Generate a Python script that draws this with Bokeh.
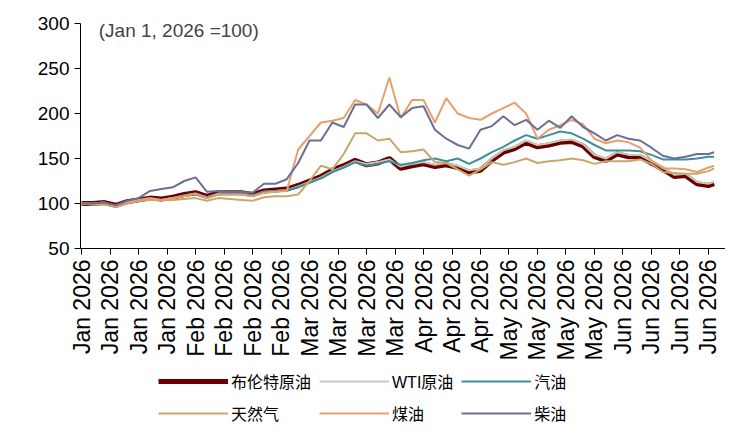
import math
from bokeh.plotting import figure
from bokeh.models import Legend, LegendItem, FixedTicker, Label, Range1d
from bokeh.layouts import column
from bokeh.embed import file_html
from bokeh.resources import INLINE

idx = list(range(0, 111, 2)) + [111]

brent = [100,100,101,98,102,104,106,105,107,110,112,108,112,112,112,110,114,115,116,120,125,130,137,142,148,143,145,150,
         139,142,144,141,143,140,135,137,148,157,161,168,163,165,168,169,164,152,148,155,152,152,145,138,130,131,122,120,122]
wti = [100,99,100,97,101,103,105,104,106,109,111,107,111,111,111,109,113,114,115,119,124,129,136,141,147,144,146,149,
       141,144,146,143,145,142,137,139,150,159,163,170,165,167,170,171,166,154,150,157,154,154,147,140,132,133,124,122,124]
gasoline = [99,100,101,97,101,103,105,104,106,109,111,107,110,111,111,109,113,114,115,118,123,128,135,140,146,142,144,147,
            143,145,148,150,147,150,144,150,157,163,170,176,172,176,180,178,172,165,159,159,159,158,154,149,149,149,150,152,152]
natgas = [100,99,99,96,100,103,104,104,104,105,106,103,106,105,104,103,107,108,108,110,125,142,138,155,178,178,170,172,
          157,158,160,146,145,138,131,138,146,143,146,150,145,147,148,150,148,144,147,147,147,149,144,135,134,133,133,136,139]
jet = [100,100,101,97,102,104,106,104,106,108,111,106,110,110,110,108,112,113,114,160,175,190,192,195,215,210,200,240,
       195,215,215,190,217,200,195,193,200,206,212,200,172,182,187,193,188,172,167,170,168,162,148,139,139,138,135,140,142]
diesel = [100,100,101,98,103,106,114,116,118,125,129,113,114,113,113,112,122,122,127,145,170,170,190,185,210,210,195,210,
          196,206,208,182,172,165,161,182,186,197,187,193,182,192,184,197,185,178,170,176,172,170,162,153,150,152,155,155,157]

tick_labels = ["Jan 2026"]*4 + ["Feb 2026"]*4 + ["Mar 2026"]*4 + ["Apr 2026"]*3 + ["May 2026"]*4 + ["Jun 2026"]*4
tick_pos = [5*k for k in range(len(tick_labels))]

FONT = "Liberation Sans, Noto Sans CJK SC"
FS = "19px"

p = figure(width=725, height=368, output_backend="svg", toolbar_location=None,
           x_range=Range1d(-0.2, 113), y_range=Range1d(50, 300),
           min_border_left=80, min_border_top=23, min_border_right=0, min_border_bottom=120)
p.grid.visible = False
p.outline_line_color = None

series = [
    ("布伦特原油", brent, "#6B0000", 5),
    ("WTI原油", wti, "#C9C9B9", 2),
    ("汽油", gasoline, "#3E8FA0", 2),
    ("天然气", natgas, "#C8A86A", 2),
    ("煤油", jet, "#E6A070", 2),
    ("柴油", diesel, "#6A7092", 2),
]
for name, vals, col, w in series:
    p.line(idx, vals, line_color=col, line_width=w)

p.xaxis.ticker = FixedTicker(ticks=tick_pos)
p.xaxis.major_label_overrides = {t: l for t, l in zip(tick_pos, tick_labels)}
p.xaxis.major_label_orientation = math.pi / 2
p.yaxis.ticker = FixedTicker(ticks=[50, 100, 150, 200, 250, 300])
for ax in (p.xaxis[0], p.yaxis[0]):
    ax.axis_line_color = "black"
    ax.major_tick_line_color = "black"
    ax.major_tick_in = 0
    ax.major_tick_out = 6
    ax.minor_tick_line_color = None
    ax.major_label_text_font = FONT
    ax.major_label_text_font_size = FS
    ax.major_label_text_color = "black"
p.xaxis.major_label_text_font_size = "23px"

p.add_layout(Label(x=3, y=304, text="(Jan 1, 2026 =100)", text_font=FONT,
                   text_font_size=FS, text_baseline="top"))

# legend panel
lf = figure(width=725, height=62, output_backend="svg", toolbar_location=None,
            x_range=Range1d(0, 1), y_range=Range1d(0, 1),
            min_border=0)
lf.axis.visible = False
lf.grid.visible = False
lf.outline_line_color = None
rs = {}
for name, vals, col, w in series:
    rs[name] = lf.line([5, 6], [5, 6], line_color=col, line_width=w)
order = ["布伦特原油", "天然气", "WTI原油", "煤油", "汽油", "柴油"]
items = [LegendItem(label=n, renderers=[rs[n]]) for n in order]
leg = Legend(items=items, ncols=3, glyph_width=70, glyph_height=14, label_standoff=3,
             label_text_font=FONT, label_text_font_size="16px", border_line_color=None,
             label_text_color="black",
             spacing=8, margin=0, padding=0, location=(78, 5), background_fill_alpha=0)
lf.add_layout(leg, "center")

open("out.html", "w").write(file_html(column(p, lf, spacing=0), INLINE))
